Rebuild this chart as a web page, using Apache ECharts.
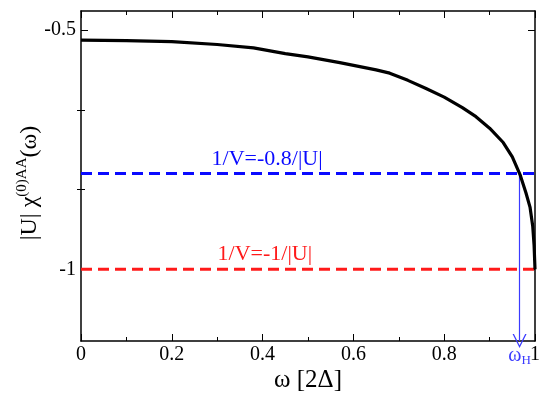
<!DOCTYPE html>
<html><head><meta charset="utf-8">
<script src="https://cdn.jsdelivr.net/npm/echarts@6/dist/echarts.min.js"></script>
<style>html,body{margin:0;padding:0;background:#fff}#c{width:550px;height:398px}</style>
</head><body><div id="c"></div>
<script>
// ---- data ----
const omega = [0.00, 0.10, 0.20, 0.30, 0.38, 0.45, 0.50, 0.57, 0.65, 0.68, 0.72, 0.76, 0.80, 0.84, 0.87, 0.90, 0.93, 0.95, 0.967, 0.98, 0.989, 0.995, 0.998, 1.0];
const chi   = [-0.521, -0.522, -0.524, -0.530, -0.537, -0.549, -0.556, -0.568, -0.583, -0.590, -0.605, -0.622, -0.640, -0.662, -0.681, -0.705, -0.735, -0.765, -0.802, -0.84, -0.87, -0.91, -0.95, -1.0];
const xRange = [0, 1];
const yRange = [-1.15, -0.46];
const xTickInterval = 0.2;
const yMajorTicks = [-1, -0.5];
const yMinorTicks = [-5 / 6, -2 / 3];
const blueLevel = -0.8;
const redLevel = -1;
const omegaH = 0.966;
const blueText = '1/V=-0.8/|U|';
const redText = '1/V=-1/|U|';
const blueTextX = 0.41;
const redTextX = 0.405;

const FONT = 'Liberation Serif, Times New Roman, Times, serif';
const BLUE = '#0a0aff';
const ARROW_BLUE = '#3a3aff';
const RED = '#ff1a1a';

const chart = echarts.init(document.getElementById('c'), null, { renderer: 'canvas' });

const frameLine = { show: true, onZero: false, lineStyle: { color: '#000', width: 1.5 } };
function xAx(pos, withLabels) {
  return {
    type: 'value', position: pos, min: xRange[0], max: xRange[1], interval: xTickInterval,
    axisLine: frameLine,
    axisTick: { show: true, inside: true, length: 7, lineStyle: { color: '#000', width: 1 } },
    minorTick: { show: true, splitNumber: 2, length: 4, lineStyle: { color: '#000', width: 1 } },
    splitLine: { show: false }, minorSplitLine: { show: false },
    axisLabel: { show: withLabels, color: '#000', fontFamily: FONT, fontSize: 20, margin: 4,
      formatter: v => String(+v.toFixed(2)) },
    name: withLabels ? 'ω [2Δ]' : '',
    nameLocation: 'middle', nameGap: 27, nameMoveOverlap: false,
    nameTextStyle: { color: '#000', fontFamily: FONT, fontSize: 25 }
  };
}
function yAx(pos, ticks, len, withLabels, withLine) {
  const o = {
    type: 'value', position: pos, min: yRange[0], max: yRange[1],
    axisLine: withLine ? frameLine : { show: false },
    axisTick: { show: true, inside: true, length: len, customValues: ticks, lineStyle: { color: '#000', width: 1 } },
    splitLine: { show: false },
    axisLabel: { show: withLabels, customValues: ticks, color: '#000', fontFamily: FONT, fontSize: 20, margin: 5,
      formatter: v => String(+v.toFixed(2)) }
  };
  if (withLabels) {
    o.name = '{a||U| χ}{s|(0)AA}{a|(ω)}';
    o.nameLocation = 'middle';
    o.nameGap = 37;
    o.nameMoveOverlap = false;
    o.nameTextStyle = {
      color: '#000', fontFamily: FONT, padding: [0, 14, 0, 0],
      rich: {
        a: { fontFamily: FONT, fontSize: 24, color: '#000' },
        s: { fontFamily: FONT, fontSize: 15, color: '#000', padding: [0, 0, 14, 0] }
      }
    };
  }
  return o;
}

const chevron = 'path://M0,10 L5,0 L10,10 L9,10 L5,2 L1,10 Z';
const hiddenSymbol = { symbol: 'circle', symbolSize: 1, itemStyle: { color: 'rgba(0,0,0,0)' } };

chart.setOption({
  animation: false,
  backgroundColor: '#fff',
  grid: { left: 81, right: 15, top: 11, bottom: 53, containLabel: false },
  xAxis: [xAx('bottom', true), xAx('top', false)],
  yAxis: [
    yAx('left', yMajorTicks, 7, true, true),
    yAx('left', yMinorTicks, 4, false, false),
    yAx('right', yMajorTicks, 7, false, true),
    yAx('right', yMinorTicks, 4, false, false)
  ],
  series: [
    {
      type: 'line', name: 'curve', xAxisIndex: 0, yAxisIndex: 0,
      data: omega.map((x, i) => [x, chi[i]]),
      showSymbol: false, symbol: 'none',
      lineStyle: { color: '#000', width: 3.2 }, z: 5
    },
    {
      type: 'line', name: 'blue', xAxisIndex: 0, yAxisIndex: 0,
      data: [[xRange[0], blueLevel], [xRange[1], blueLevel]],
      showSymbol: false, symbol: 'none',
      lineStyle: { color: BLUE, width: 3, type: [11, 6] },
      markPoint: Object.assign({}, hiddenSymbol, {
        data: [{ coord: [blueTextX, blueLevel] }],
        label: { show: true, position: 'inside', formatter: blueText, color: BLUE, fontFamily: FONT, fontSize: 22, offset: [0, -14] }
      }),
      markLine: {
        silent: true,
        symbol: ['none', chevron], symbolSize: [14, 14],
        itemStyle: { color: ARROW_BLUE },
        lineStyle: { color: ARROW_BLUE, width: 1.2, type: 'solid' },
        data: [[{ coord: [omegaH, blueLevel] }, { coord: [omegaH, yRange[0]] }]],
        label: {
          show: true, position: 'end', distance: 3,
          formatter: '{w|ω}{h|H}',
          rich: {
            w: { fontFamily: FONT, fontSize: 20, color: ARROW_BLUE },
            h: { fontFamily: FONT, fontSize: 13, color: ARROW_BLUE, padding: [10, 0, 0, 0] }
          }
        }
      }
    },
    {
      type: 'line', name: 'red', xAxisIndex: 0, yAxisIndex: 0,
      data: [[xRange[0], redLevel], [xRange[1], redLevel]],
      showSymbol: false, symbol: 'none',
      lineStyle: { color: RED, width: 3, type: [11, 6] },
      markPoint: Object.assign({}, hiddenSymbol, {
        data: [{ coord: [redTextX, redLevel] }],
        label: { show: true, position: 'inside', formatter: redText, color: RED, fontFamily: FONT, fontSize: 22, offset: [0, -15] }
      })
    }
  ]
});
</script>
</body></html>
